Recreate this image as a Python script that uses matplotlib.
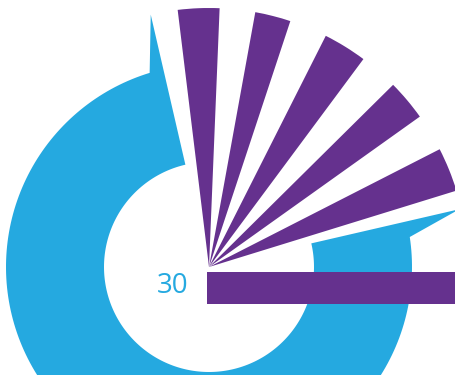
import numpy as np
import matplotlib.pyplot as plt
from matplotlib.patches import Wedge, Polygon, Rectangle

BLUE = "#25a9e0"
PURPLE = "#65318e"

# fan of purple wedges (centre angle in degrees, counter-clockwise from +x)
fan_angles = [92.3, 75.7, 58.3, 40.1, 22.1]
fan_widths = [9.3, 8.0, 9.8, 9.2, 9.9]
fan_radius = [259, 259, 259, 259, 259]

# blue ring, with pointed ends
ring_start = 13.0     # end of ring on the right
ring_end = 103.0      # end of ring at the top left
ring_inner = 105
ring_outer = 203
tip_radius = [257, 259]

# horizontal bar and its label
bar_length = 255
bar_label = "30"

CX, CY = 209, 108


def polar(r, deg):
    t = np.radians(deg)
    return CX + r * np.cos(t), CY + r * np.sin(t)


def ring_shape():
    pts = []
    # outer arc, clockwise from the right tip base to the top-left tip base
    for a in np.linspace(ring_start - 4.5, ring_end + 4.0 - 360, 200):
        pts.append(polar(ring_outer, a))
    pts.append(polar(tip_radius[1], ring_end))
    # inner arc back round
    for a in np.linspace(ring_end, ring_start + 360, 200):
        pts.append(polar(ring_inner, a))
    pts.append(polar(tip_radius[0], ring_start))
    return pts


def main():
    fig = plt.figure(figsize=(4.56, 3.75), dpi=100)
    ax = fig.add_axes([0, 0, 1, 1])
    ax.set_xlim(0, 456)
    ax.set_ylim(0, 375)
    ax.set_aspect("equal")
    ax.axis("off")

    ax.add_patch(Polygon(ring_shape(), closed=True, color=BLUE, lw=0))

    for ang, w, r in zip(fan_angles, fan_widths, fan_radius):
        ax.add_patch(Wedge((CX, CY), r, ang - w / 2, ang + w / 2, color=PURPLE, lw=0))

    ax.add_patch(Rectangle((207, 71), bar_length, 32, color=PURPLE, lw=0))

    ax.text(173, 89, bar_label, color=BLUE, fontsize=20, family="Open Sans",
            ha="center", va="center")

    fig.savefig("out.png", dpi=100)
    plt.close(fig)


if __name__ == "__main__":
    main()
